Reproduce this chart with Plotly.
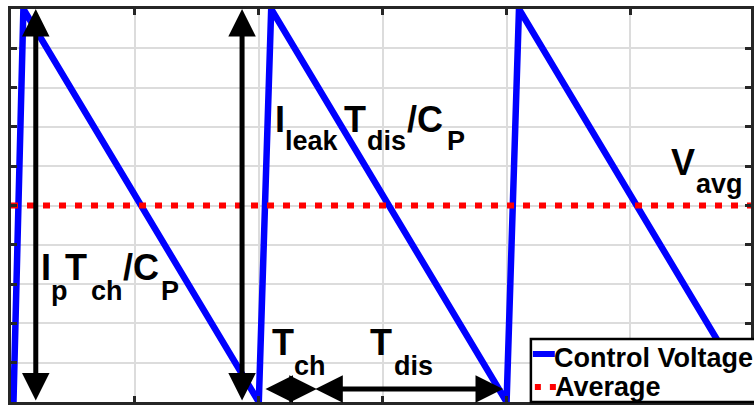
import plotly.graph_objects as go

# ---------------- data ----------------
time_pts = [0.02, 0.1, 2.0, 2.1, 4.0, 4.1, 6.0]
control_voltage = [0.0, 1.0, 0.0, 1.0, 0.0, 1.0, 0.0]
avg_time = [0.0, 6.0]
avg_value = [0.5, 0.5]
series_names = ["Control Voltage", "Average"]

# double-headed dimension arrows: tail (x0, y0) -> head (x1, y1)
arrow_x0 = [0.2, 1.865, 2.042, 2.444]
arrow_y0 = [0.0, 0.0, 0.033, 0.033]
arrow_x1 = [0.2, 1.865, 2.468, 3.971]
arrow_y1 = [1.0, 1.0, 0.033, 0.033]

# ---------------- layout geometry ----------------
W, H = 754, 405
ML, MR, MT, MB = 11, 0, 9, 3
PW, PH = W - ML - MR, H - MT - MB
UNIT = 124.4  # pixels per x unit
XMAX = PW / UNIT

FONT = "Liberation Sans, Arial, Helvetica, sans-serif"
MAIN, SUB = 36, 27
LEG = 27
AXC = "#262626"


def px2x(px):
    return (px - ML) / PW


def py2y(py):
    return (H - MB - py) / PH


fig = go.Figure()
fig.add_trace(go.Scatter(x=time_pts, y=control_voltage, mode="lines",
                         name=series_names[0], showlegend=False,
                         line=dict(color="#0000FF", width=6.5)))
fig.add_trace(go.Scatter(x=avg_time, y=avg_value, mode="lines",
                         name=series_names[1], showlegend=False,
                         line=dict(color="#FF0000", width=6, dash="7px,9px")))

annotations = []
# arrows
for x0, y0, x1, y1 in zip(arrow_x0, arrow_y0, arrow_x1, arrow_y1):
    annotations.append(dict(
        x=x1, y=y1, ax=x0, ay=y0, xref="x", yref="y", axref="x", ayref="y",
        text="", showarrow=True, arrowhead=2, startarrowhead=2,
        arrowside="end+start", arrowwidth=5, arrowsize=1.1, startarrowsize=1.1,
        arrowcolor="black", standoff=0, startstandoff=0))

# text pieces: (text, size, glyph-left px, baseline px)
pieces = [
    ("I", MAIN, 43, 280), ("p", SUB, 53, 300), ("T", MAIN, 67, 280),
    ("ch", SUB, 93, 300), ("/C", MAIN, 125, 280), ("P", SUB, 163, 300),
    ("I", MAIN, 278, 132), ("leak", SUB, 288, 150), ("T", MAIN, 347, 132),
    ("dis", SUB, 370, 150), ("/C", MAIN, 410, 132), ("P", SUB, 450, 150),
    ("T", MAIN, 275, 355), ("ch", SUB, 297, 375),
    ("T", MAIN, 373, 355), ("dis", SUB, 397, 375),
    ("V", MAIN, 675, 175), ("avg", SUB, 700, 193),
    (series_names[0], LEG, 558, 367), (series_names[1], LEG, 559, 396),
]
for txt, fs, gl, base in pieces:
    annotations.append(dict(
        text="<b>%s</b>" % txt, xref="paper", yref="paper",
        x=px2x(gl - 1.5), y=py2y(base + 0.212 * fs),
        xanchor="left", yanchor="bottom", showarrow=False,
        borderpad=0, borderwidth=0,
        font=dict(family=FONT, size=fs, color="black")))

shapes = [
    # legend box (cropped by the figure edge)
    dict(type="rect", xref="paper", yref="paper", layer="above",
         x0=px2x(533), x1=px2x(775), y0=py2y(339), y1=py2y(402),
         line=dict(color="black", width=2.5), fillcolor="white"),
    dict(type="line", xref="paper", yref="paper", layer="above",
         x0=px2x(535), x1=px2x(557), y0=py2y(354), y1=py2y(354),
         line=dict(color="#0000FF", width=6)),
    dict(type="line", xref="paper", yref="paper", layer="above",
         x0=px2x(537), x1=px2x(559), y0=py2y(387), y1=py2y(387),
         line=dict(color="#FF0000", width=6, dash="6px,9px")),
]

axis_common = dict(showgrid=True, gridcolor="#dcdcdc", gridwidth=2,
                   showline=True, linecolor=AXC, linewidth=2.5,
                   mirror="ticks", ticks="inside", ticklen=6, tickwidth=2.5,
                   tickcolor=AXC, showticklabels=False, zeroline=False,
                   fixedrange=True)

fig.update_layout(
    width=W, height=H,
    margin=dict(l=ML, r=MR, t=MT, b=MB, pad=0),
    paper_bgcolor="white", plot_bgcolor="white",
    xaxis=dict(range=[0, XMAX], tick0=0, dtick=1, **axis_common),
    yaxis=dict(range=[0, 1], tick0=0, dtick=0.1, **axis_common),
    annotations=annotations, shapes=shapes, showlegend=False,
)

fig.write_html("out.html")
